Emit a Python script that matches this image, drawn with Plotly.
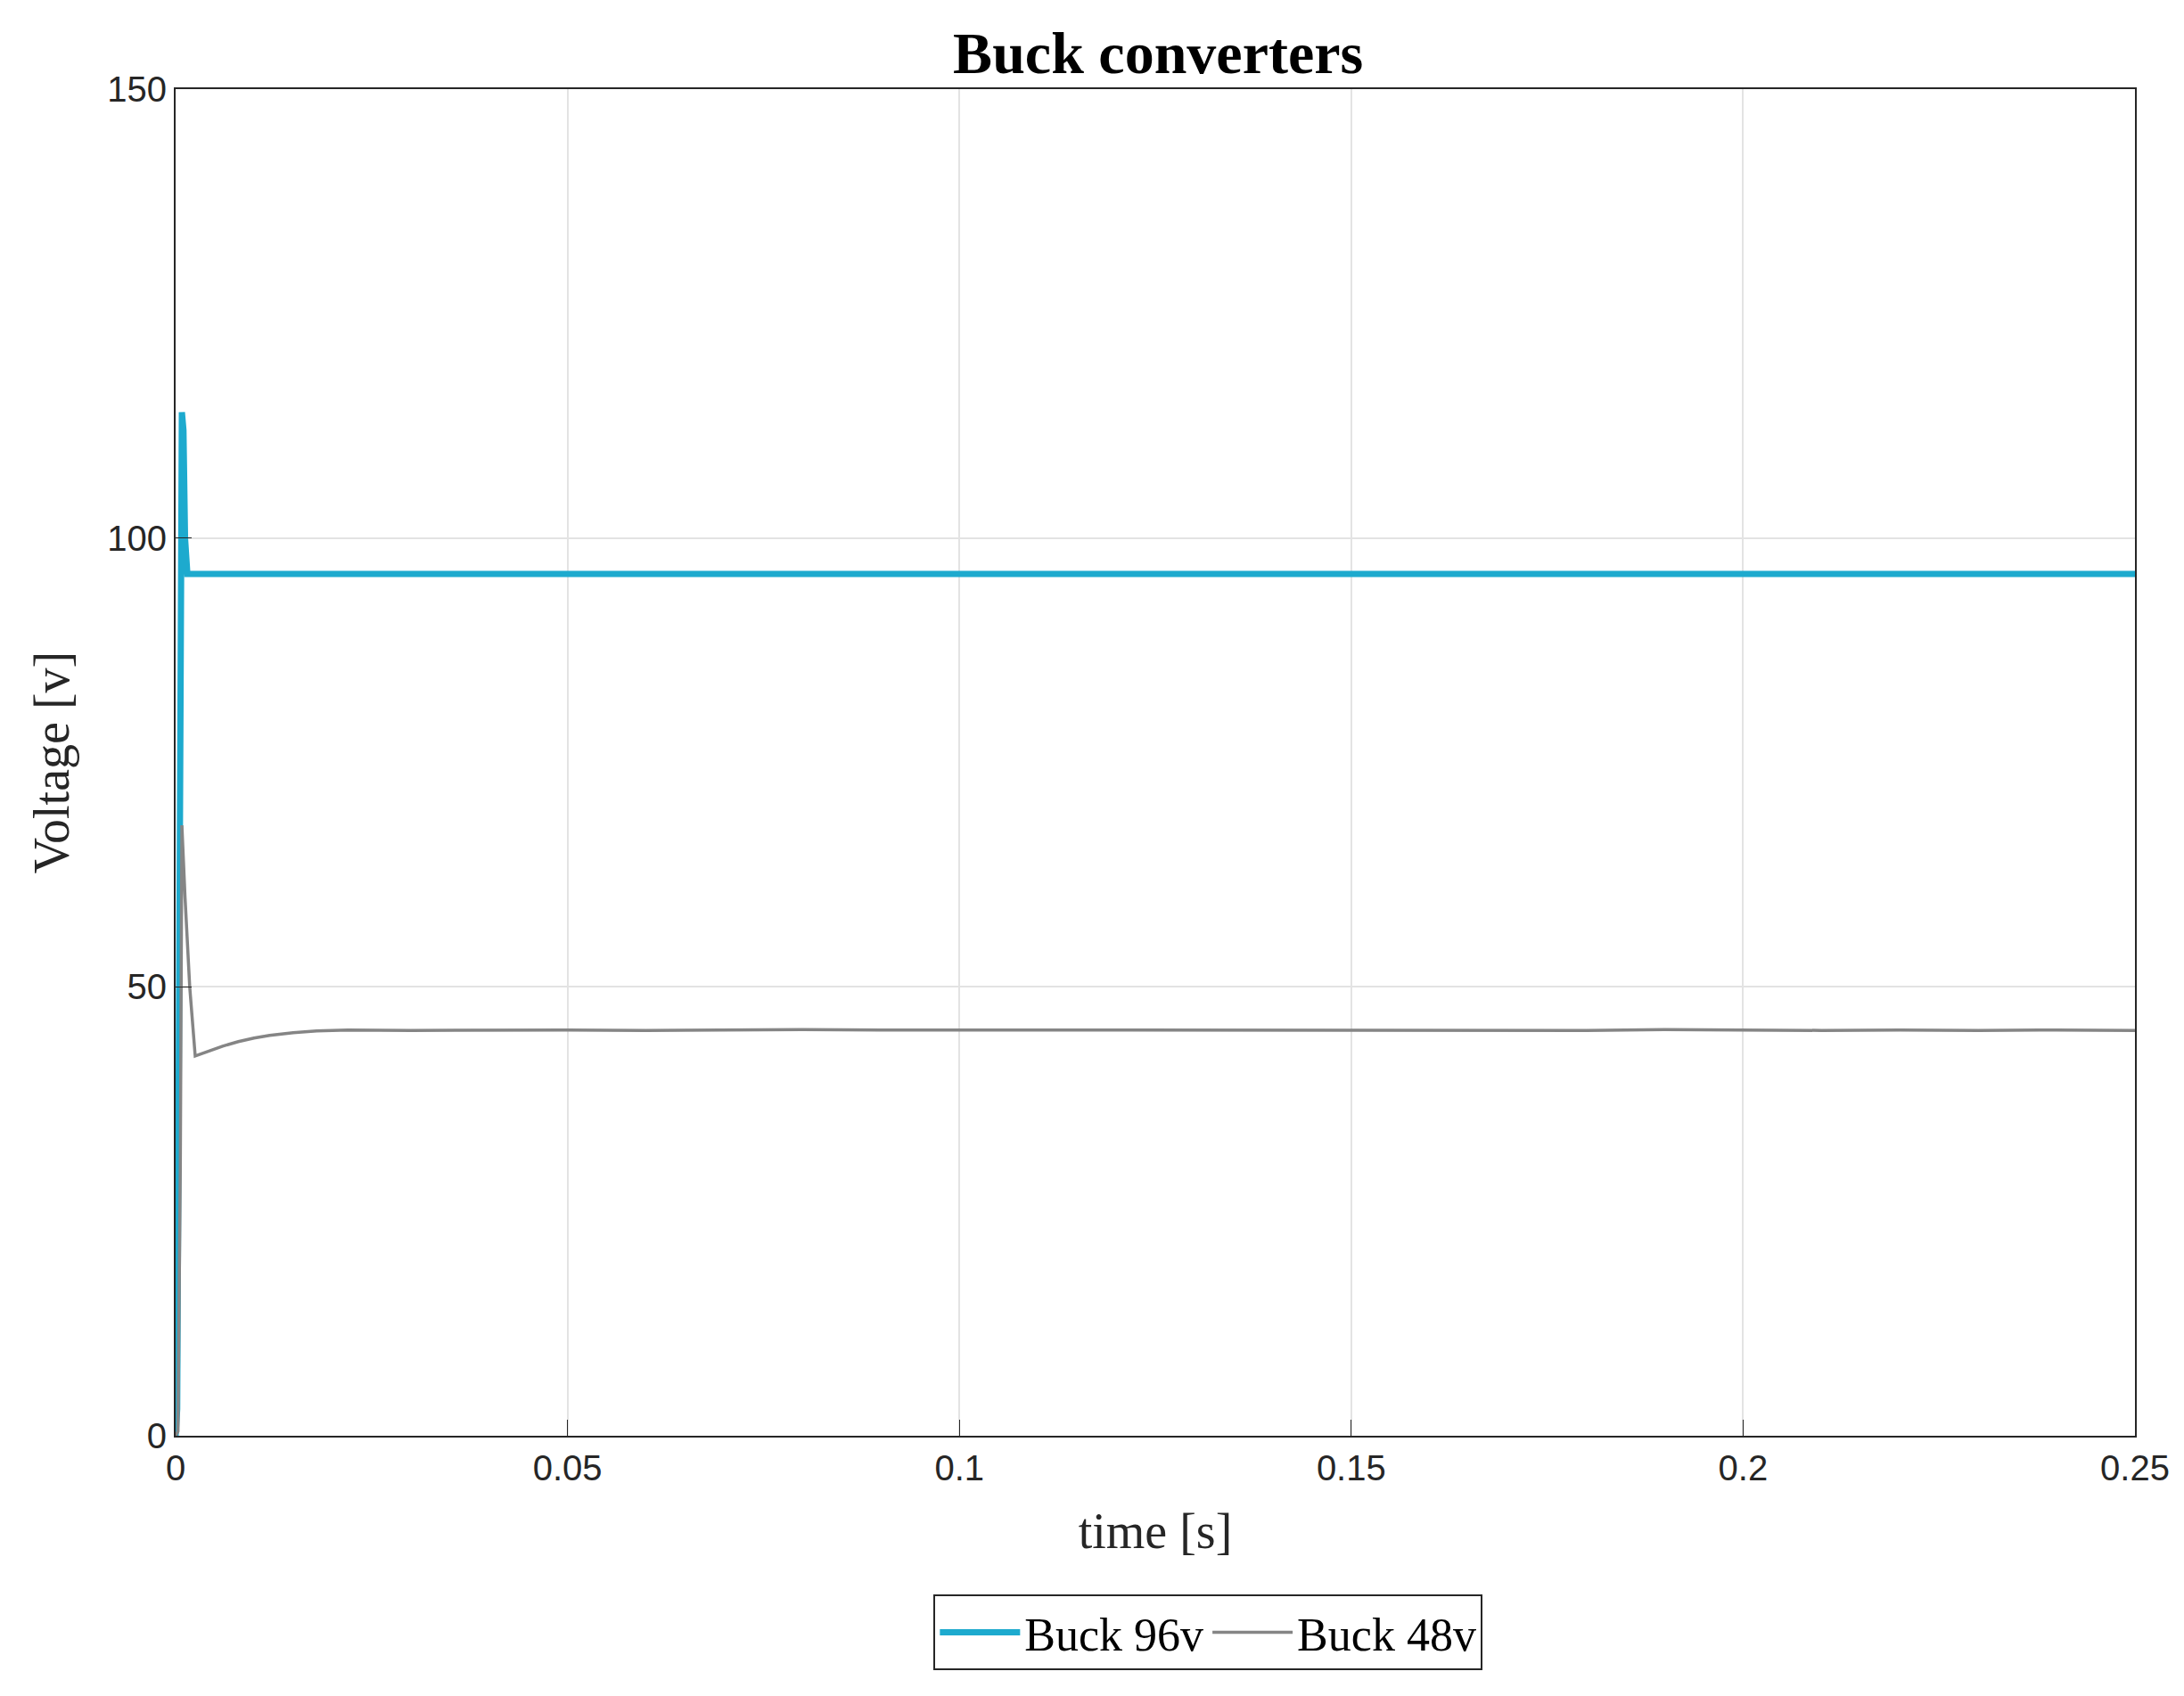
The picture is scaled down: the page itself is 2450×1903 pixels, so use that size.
import plotly.graph_objects as go

t96 = [0, 0.0002, 0.0004, 0.0006, 0.0008, 0.0010, 0.0012, 0.0015, 0.002, 0.005, 0.01, 0.015, 0.02, 0.025, 0.03, 0.035, 0.04, 0.045, 0.05, 0.055, 0.06, 0.065, 0.07, 0.075, 0.08, 0.085, 0.09, 0.095, 0.1, 0.105, 0.11, 0.115, 0.12, 0.125, 0.13, 0.135, 0.14, 0.145, 0.15, 0.155, 0.16, 0.165, 0.17, 0.175, 0.18, 0.185, 0.19, 0.195, 0.2, 0.205, 0.21, 0.215, 0.22, 0.225, 0.23, 0.235, 0.24, 0.245, 0.25]
v96 = [0, 3, 40, 95, 114, 112, 100, 96, 96.0, 96.0, 96.05, 96.0, 96.0, 96.1, 96.0, 96.05, 96.0, 96.0, 96.1, 96.0, 96.05, 96.0, 96.1, 96.0, 96.0, 96.05, 96.0, 96.05, 96.0, 96.0, 96.05, 96.0, 96.0, 96.05, 96.1, 96.0, 96.0, 96.05, 96.0, 96.0, 96.05, 96.0, 96.0, 96.05, 96.0, 96.0, 96.05, 96.0, 96.1, 96.0, 96.0, 96.05, 96.0, 96.0, 96.0, 96.05, 96.0, 96.0, 96.0]

t48 = [0, 0.0003, 0.0006, 0.0008, 0.0012, 0.0018, 0.0025, 0.004, 0.006, 0.008, 0.010, 0.012, 0.015, 0.018, 0.022, 0.03, 0.04, 0.05, 0.06, 0.07, 0.08, 0.09, 0.1, 0.11, 0.12, 0.13, 0.14, 0.15, 0.16, 0.17, 0.18, 0.19, 0.2, 0.21, 0.22, 0.23, 0.24, 0.25]
v48 = [0, 0.5, 30, 68, 60, 50, 42.3, 42.8, 43.4, 43.9, 44.3, 44.6, 44.9, 45.1, 45.2, 45.15, 45.2, 45.2, 45.15, 45.2, 45.25, 45.2, 45.2, 45.15, 45.2, 45.15, 45.2, 45.15, 45.2, 45.2, 45.15, 45.25, 45.2, 45.15, 45.2, 45.15, 45.2, 45.15]

fig = go.Figure()
fig.add_trace(go.Scatter(x=t96, y=v96, mode="lines", name="Buck 96v",
                         line=dict(color="#1DAACE", width=7)))
fig.add_trace(go.Scatter(x=t48, y=v48, mode="lines", name="Buck 48v",
                         line=dict(color="#858585", width=3.5)))

axis_common = dict(showline=True, linecolor="#262626", linewidth=2, mirror=True,
                   ticks="inside", ticklen=18, tickcolor="#262626",
                   showgrid=True, gridcolor="#E3E3E3", gridwidth=2, zeroline=False,
                   tickfont=dict(family="Liberation Sans, Arial", size=40, color="#262626"))

fig.update_layout(
    width=2450, height=1903, plot_bgcolor="white", paper_bgcolor="white",
    margin=dict(l=189, r=63, t=92, b=300),
    title=dict(text="<b>Buck converters</b>", x=0.527, xanchor="center", y=0.973, yanchor="middle",
               font=dict(family="Liberation Serif, Times New Roman", size=66, color="black")),
    xaxis=dict(range=[0, 0.25], tickvals=[0, 0.05, 0.1, 0.15, 0.2, 0.25],
               ticktext=["0", "0.05", "0.1", "0.15", "0.2", "0.25"],
               title=dict(text="time [s]", standoff=30,
                          font=dict(family="Liberation Serif, Times New Roman", size=56, color="#262626")),
               **axis_common),
    yaxis=dict(range=[0, 150], tickvals=[0, 50, 100, 150],
               title=dict(text="Voltage [v]", standoff=25,
                          font=dict(family="Liberation Serif, Times New Roman", size=56, color="#262626")),
               **axis_common),
    showlegend=True,
    legend=dict(orientation="h", x=0.527, xanchor="center", y=-0.118, yanchor="top",
                bordercolor="#262626", borderwidth=2, bgcolor="white",
                font=dict(family="Liberation Serif, Times New Roman", size=52, color="black"),
                itemwidth=90),
)

fig.write_html("out.html")
